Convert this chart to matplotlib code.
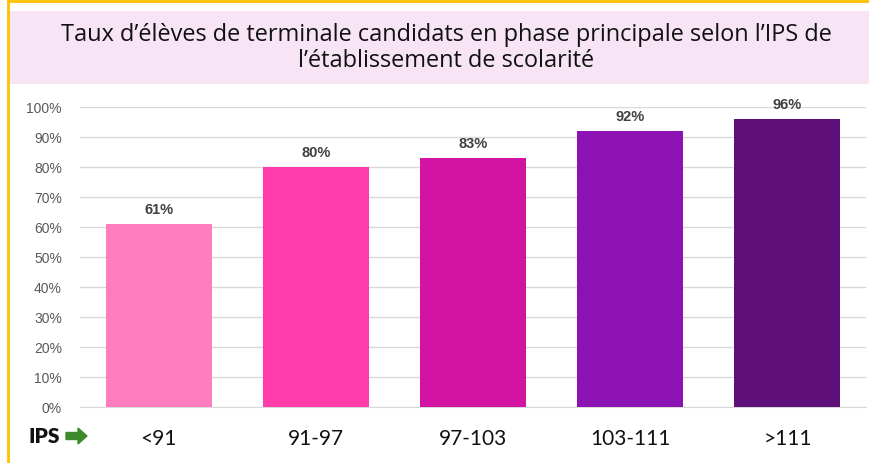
import matplotlib.pyplot as plt
from matplotlib.patches import Rectangle, FancyArrow
from matplotlib.lines import Line2D

categories = ["<91", "91-97", "97-103", "103-111", ">111"]
values = [61, 80, 83, 92, 96]
colors = ["#FF7DBE", "#FF3CAA", "#D314A3", "#8C12B4", "#5E0F7A"]
yticks = [0, 10, 20, 30, 40, 50, 60, 70, 80, 90, 100]
title = "Taux d\u2019élèves de terminale candidats en phase principale selon l\u2019IPS de\nl\u2019établissement de scolarité"

fig = plt.figure(figsize=(8.7, 4.64), dpi=100)
W, H = 870, 464

# frame and title box
fig.add_artist(Line2D([8 / W, 8 / W], [0, 1], color="#FFC000", lw=2))
fig.add_artist(Line2D([8 / W, 1], [1 - 2 / H, 1 - 2 / H], color="#FFC000", lw=2))
fig.add_artist(Rectangle((10 / W, 1 - 85 / H), 860 / W, 73 / H,
                         transform=fig.transFigure, color="#F7E5F5", lw=0))
fig.text(446 / W, 1 - 48 / H, title, ha="center", va="center",
         fontsize=16.9, family="Open Sans", color="#111111", linespacing=1.15)

ax = fig.add_axes([80 / W, 1 - 408 / H, 786 / W, 300 / H])
x = list(range(len(categories)))
ax.bar(x, values, width=0.675, color=colors, zorder=3)
for xi, v in zip(x, values):
    ax.text(xi, v + 2.6, f"{v}%", ha="center", va="bottom", fontsize=10.5,
            fontweight="bold", color="#404040", family="Liberation Sans")

ax.set_xlim(-0.5, len(categories) - 0.5)
ax.set_ylim(0, 100)
ax.set_yticks(yticks)
ax.set_yticklabels([f"{t}%" for t in yticks], family="Liberation Sans",
                   fontsize=10, color="#595959")
ax.yaxis.grid(True, color="#D9D9D9", lw=1, zorder=0)
ax.tick_params(axis="y", length=0, pad=13)
ax.set_xticks(x)
ax.set_xticklabels(categories, family="Lato", fontsize=15, color="#111111")
ax.tick_params(axis="x", length=0, pad=15)
for s in ["top", "right", "left"]:
    ax.spines[s].set_visible(False)
ax.spines["bottom"].set_color("#D9D9D9")

fig.text(29 / W, 1 - 437 / H, "IPS", ha="left", va="center", fontsize=15,
         fontweight="heavy", family="Lato", color="#111111")
fig.add_artist(FancyArrow(66 / W, 1 - 437 / H, 21 / W, 0, width=7 / H,
                          head_width=16 / H, head_length=9 / W,
                          length_includes_head=True, color="#3E8A2A",
                          transform=fig.transFigure))

fig.savefig("out.png", dpi=100)
